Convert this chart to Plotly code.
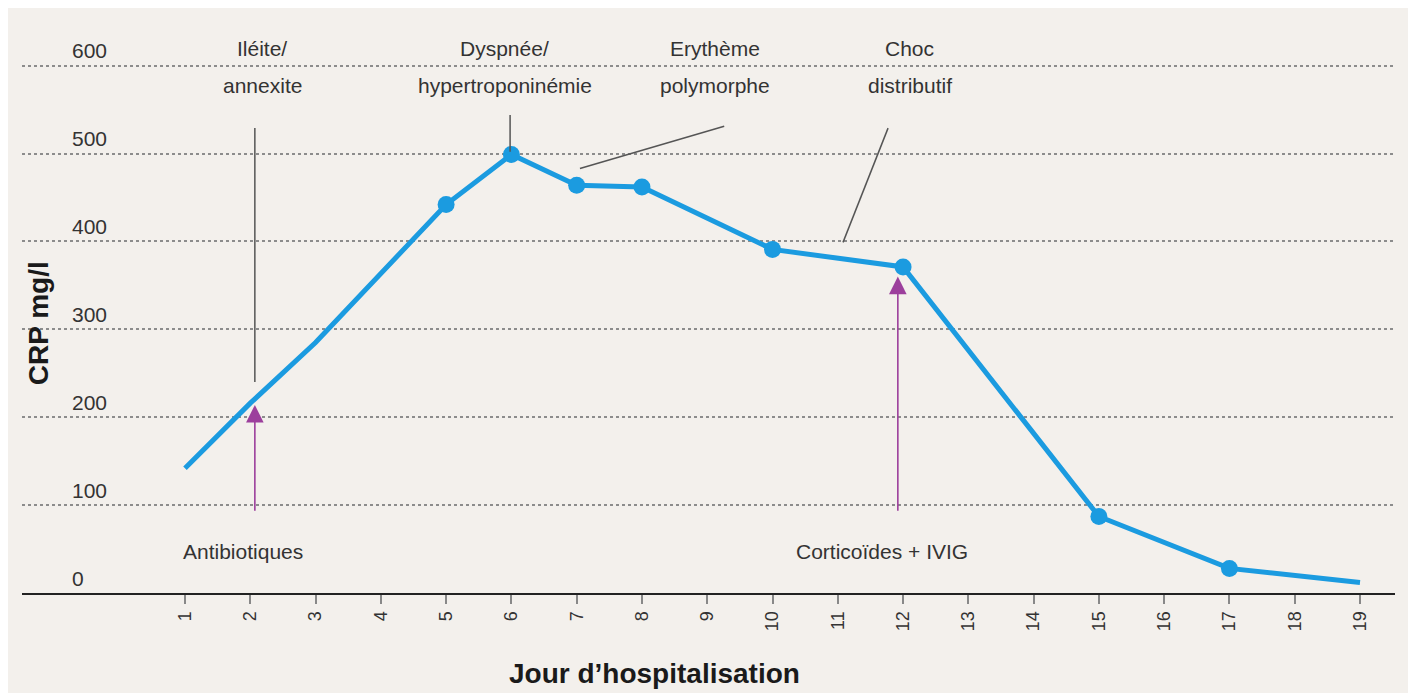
import plotly.graph_objects as go

# CRP measurements per hospital day
days = [1, 2, 3, 5, 6, 7, 8, 10, 12, 15, 17, 19]
crp = [142, 216, 285, 442, 499, 464, 462, 391, 371, 87, 28, 12]
# days with a dot on the curve
dot_days = [5, 6, 7, 8, 10, 12, 15, 17]

y_ticks = [0, 100, 200, 300, 400, 500, 600]
x_ticks = list(range(1, 20))

# clinical events (two-line labels above the curve)
event_line1 = ["Iléite/", "Dyspnée/", "Erythème", "Choc"]
event_line2 = ["annexite", "hypertroponinémie", "polymorphe", "distributif"]
event_x = [2.18, 5.9, 9.12, 12.1]
# leader lines: (x0, y0, x1, y1) in data units
leaders = [(2.07, 529, 2.07, 240), (5.98, 544, 5.98, 502),
           (7.05, 483, 9.26, 531), (11.77, 529, 11.08, 399)]

# treatments (arrows from below)
treat_text = ["Antibiotiques", "Corticoïdes + IVIG"]
treat_text_x = [1.89, 11.68]
treat_arrow_x = [2.07, 11.92]
treat_arrow_top = [214, 360]

blue = "#1b9be0"
purple = "#9c3f9c"
font = "Liberation Sans, Arial, sans-serif"

fig = go.Figure()
fig.add_trace(go.Scatter(x=days, y=crp, mode="lines",
                         line=dict(color=blue, width=5), hoverinfo="skip"))
fig.add_trace(go.Scatter(x=dot_days, y=[crp[days.index(d)] for d in dot_days],
                         mode="markers", marker=dict(color=blue, size=17)))

ann = []
for t1, t2, x in zip(event_line1, event_line2, event_x):
    ann.append(dict(x=x, y=620, text=t1, showarrow=False, font=dict(size=21, color="#333")))
    ann.append(dict(x=x, y=577, text=t2, showarrow=False, font=dict(size=21, color="#333")))
for t, tx, ax, top in zip(treat_text, treat_text_x, treat_arrow_x, treat_arrow_top):
    ann.append(dict(x=tx, y=47, text=t, showarrow=False, font=dict(size=21, color="#333")))
    ann.append(dict(x=ax, y=top, ax=ax, ay=92, axref="x", ayref="y", text="",
                    showarrow=True, arrowhead=2, arrowsize=2.2, arrowwidth=1.6,
                    arrowcolor=purple))
ann.append(dict(xref="paper", yref="paper", x=0.0117, y=0.471, xanchor="center", yanchor="middle",
                text="<b>CRP mg/l</b>", textangle=-90, showarrow=False,
                font=dict(size=28, color="#1a1a1a")))
ann.append(dict(xref="paper", yref="paper", x=0.461, y=-0.14, xanchor="center", yanchor="middle",
                text="<b>Jour d’hospitalisation</b>", showarrow=False,
                font=dict(size=28, color="#1a1a1a")))

shapes = []
for x0, y0, x1, y1 in leaders:
    shapes.append(dict(type="line", xref="x", yref="y", x0=x0, y0=y0, x1=x1, y1=y1,
                       line=dict(color="#555", width=1.5)))

fig.update_layout(
    width=1416, height=693,
    margin=dict(l=14, r=29, t=12, b=108),
    paper_bgcolor="#f3f0ec", plot_bgcolor="rgba(0,0,0,0)",
    font=dict(family=font, color="#333"),
    showlegend=False,
    annotations=ann, shapes=shapes,
    xaxis=dict(range=[-1.497, 19.536], tickvals=x_ticks, tickangle=-90,
               showgrid=False, zeroline=False, showline=True, linecolor="#222", linewidth=2,
               ticks="outside", ticklen=9, tickcolor="#888", tickwidth=1.5,
               tickfont=dict(size=18, color="#333")),
    yaxis=dict(range=[0, 652], tickvals=y_ticks, showgrid=True, gridcolor="#8c8c8c",
               griddash="dot", gridwidth=1.5, zeroline=False, showline=False,
               ticklabelposition="inside top", ticklabelstandoff=47,
               tickfont=dict(size=21, color="#333")),
)

fig.write_html("out.html")
